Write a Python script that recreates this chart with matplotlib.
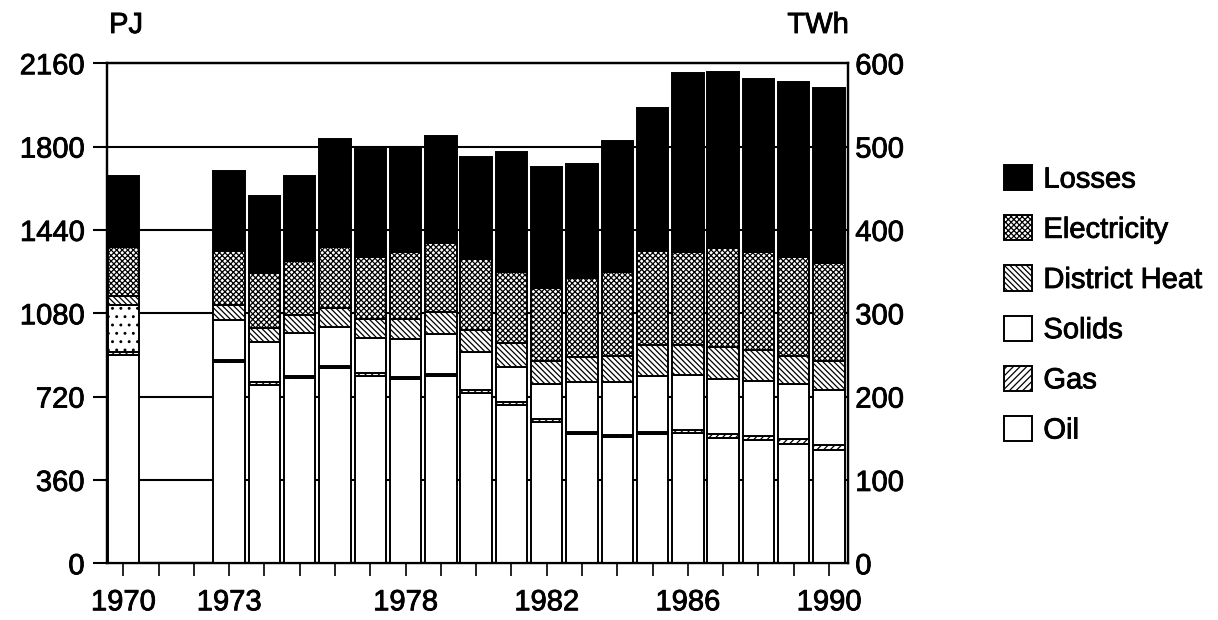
import numpy as np
import matplotlib
matplotlib.use("Agg")
import matplotlib.pyplot as plt
import matplotlib.patheffects as pe
from matplotlib.patches import Patch

plt.rcParams['font.family'] = ['Liberation Sans', 'DejaVu Sans']
plt.rcParams['hatch.linewidth'] = 0.9

# energy use in PJ (1971 and 1972 missing)
years = [1970, 1973, 1974, 1975, 1976, 1977, 1978, 1979, 1980, 1981,
         1982, 1983, 1984, 1985, 1986, 1987, 1988, 1989, 1990]
oil = [899, 870, 770, 799, 842, 809, 795, 807, 737, 683,
       610, 560, 546, 560, 562, 543, 533, 514, 489]
gas = [12, 8, 12, 11, 12, 11, 11, 11, 12, 12,
       13, 8, 8, 8, 14, 16, 18, 23, 23]
solids = [205, 173, 173, 184, 168, 152, 163, 173, 162, 154,
          152, 217, 231, 241, 237, 237, 236, 236, 237]
district_heat = [39, 65, 60, 79, 79, 82, 85, 96, 97, 101,
                 100, 105, 111, 134, 130, 140, 134, 123, 125]
electricity = [210, 233, 240, 234, 267, 271, 289, 295, 305, 310,
               316, 341, 364, 406, 403, 425, 422, 426, 422]
losses = [309, 344, 333, 367, 465, 465, 457, 464, 444, 518,
          520, 494, 566, 619, 773, 760, 751, 756, 756]

pj_ticks = [0, 360, 720, 1080, 1440, 1800, 2160]
twh_ticks = [0, 100, 200, 300, 400, 500, 600]
year_labels = [1970, 1973, 1978, 1982, 1986, 1990]

# slightly heavier text, like the scanned original
heavy = [pe.withStroke(linewidth=0.6, foreground="black")]

fig = plt.figure(figsize=(12.18, 6.2), dpi=100)
ax = fig.add_axes([0.0876, 0.0915, 0.6089, 0.8065])

layers = [
    ("Oil", oil, "white", ""),
    ("Gas", gas, "white", "/////"),
    ("Solids", solids, "white", ""),
    ("District Heat", district_heat, "white", "\\\\\\\\\\\\"),
    ("Electricity", electricity, "white", "xxxxxx"),
    ("Losses", losses, "black", ""),
]

bottom = np.zeros(len(years))
handles = {}
for name, vals, fc, hatch in layers:
    bars = ax.bar(years, vals, bottom=bottom, width=0.89, color=fc,
                  edgecolor="black", linewidth=1.4, hatch=hatch, zorder=3)
    # the 1970 bar is stippled in the original
    if name == "Solids":
        bars[0].set_hatch("..")
    handles[name] = Patch(facecolor=fc, edgecolor="black", linewidth=1.4, hatch=hatch)
    bottom += np.array(vals)

ax.set_xlim(1969.53, 1990.55)
ax.set_ylim(0, 2160)
ax.set_yticks(pj_ticks)
ax.yaxis.grid(True, color="black", linewidth=1.5)
ax.set_axisbelow(True)
ax.set_xticks(range(1970, 1991))
ax.set_xticklabels([str(y) if y in year_labels else "" for y in range(1970, 1991)])
ax.tick_params(axis="x", length=9, width=1.2, pad=9, labelsize=21)
ax.tick_params(axis="y", length=10, width=1.5, pad=6, labelsize=21)
for s in ax.spines.values():
    s.set_linewidth(1.6)

ax2 = ax.twinx()
ax2.set_ylim(0, 600)
ax2.set_yticks(twh_ticks)
ax2.tick_params(axis="y", length=0, pad=5, labelsize=21)
for s in ax2.spines.values():
    s.set_linewidth(1.6)

for lab in ax.get_xticklabels() + ax.get_yticklabels() + ax2.get_yticklabels():
    lab.set_path_effects(heavy)

fig.text(126 / 1218, 1 - 25 / 620, "PJ", fontsize=21, ha="center", va="center",
         path_effects=heavy)
fig.text(818 / 1218, 1 - 25 / 620, "TWh", fontsize=21, ha="center", va="center",
         path_effects=heavy)

order = ["Losses", "Electricity", "District Heat", "Solids", "Gas", "Oil"]
leg = fig.legend([handles[n] for n in order], order, loc="upper left",
                 bbox_to_anchor=(1004 / 1218, 1 - 165 / 620), frameon=False,
                 fontsize=21, handlelength=0.95, handleheight=0.95,
                 handletextpad=0.4, labelspacing=0.74, borderpad=0,
                 borderaxespad=0)
for t in leg.get_texts():
    t.set_path_effects(heavy)

fig.savefig("out.png", dpi=100)
